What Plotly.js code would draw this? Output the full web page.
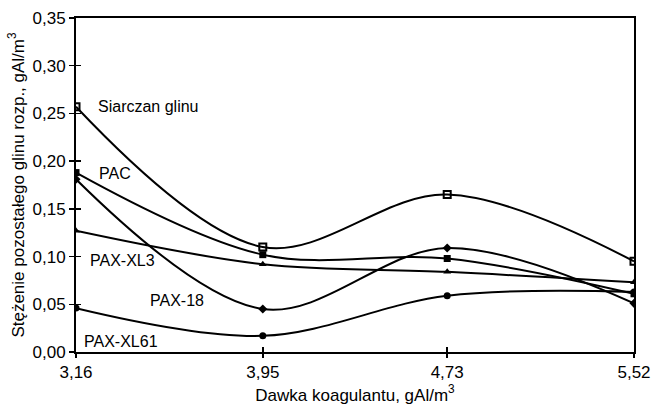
<!DOCTYPE html>
<html>
<head>
<meta charset="utf-8">
<script src="https://cdn.plot.ly/plotly-3.0.1.min.js"></script>
<style>html,body{margin:0;padding:0;background:#fff;}#chart{width:654px;height:409px;}</style>
</head>
<body>
<div id="chart"></div>
<script>
const doses = [3.16, 3.95, 4.73, 5.52];
const xTickLabels = ['3,16', '3,95', '4,73', '5,52'];
const siarczan = [0.257, 0.110, 0.165, 0.095];
const pac = [0.188, 0.102, 0.098, 0.061];
const paxXL3 = [0.127, 0.092, 0.084, 0.073];
const pax18 = [0.181, 0.045, 0.109, 0.051];
const paxXL61 = [0.046, 0.017, 0.059, 0.063];
const seriesNames = ['Siarczan glinu', 'PAC', 'PAX-XL3', 'PAX-18', 'PAX-XL61'];
const yTicks = [0, 0.05, 0.10, 0.15, 0.20, 0.25, 0.30, 0.35];

const seriesData = [siarczan, pac, paxXL3, pax18, paxXL61];
const markerStyles = [
  {symbol: 'square-open', size: 7, line: {width: 2, color: '#000'}},
  {symbol: 'square', size: 7},
  {symbol: 'triangle-up', size: 7},
  {symbol: 'diamond', size: 7},
  {symbol: 'circle', size: 7}
];

const traces = seriesData.map((vals, i) => ({
  x: doses, y: vals, name: seriesNames[i], type: 'scatter', mode: 'lines+markers',
  line: {shape: 'spline', smoothing: 1, color: '#000', width: 2},
  marker: Object.assign({color: '#000'}, markerStyles[i]),
  showlegend: false, hoverinfo: 'skip'
}));

// label positions (layout only)
const labelPos = [
  {x: 3.245, y: 0.257},
  {x: 3.25, y: 0.187},
  {x: 3.21, y: 0.096},
  {x: 3.465, y: 0.054},
  {x: 3.185, y: 0.011}
];
const labelFont = {family: 'Liberation Sans, Arial', size: 16, color: '#000'};
const annotations = seriesNames.map((n, i) => ({
  x: labelPos[i].x, y: labelPos[i].y, xref: 'x', yref: 'y', text: n,
  showarrow: false, xanchor: 'left', yanchor: 'middle', font: labelFont
}));

const font = {family: 'Liberation Sans, Arial', size: 17, color: '#000'};
const layout = {
  width: 654, height: 409,
  margin: {l: 76, r: 20, t: 18, b: 57},
  paper_bgcolor: '#fff', plot_bgcolor: '#fff',
  separators: ', ',
  font: font,
  showlegend: false,
  xaxis: {
    range: [3.16, 5.52], tickvals: doses, ticktext: xTickLabels,
    showline: true, linecolor: '#000', linewidth: 2, mirror: true,
    ticks: 'outside', ticklen: 4, tickwidth: 1.5, tickcolor: '#000',
    showgrid: false, zeroline: false, tickfont: font,
    title: {text: 'Dawka koagulantu, gAl/m<sup>3</sup>', font: font, standoff: 6}
  },
  yaxis: {
    range: [0, 0.35], tickvals: yTicks, tickformat: '.2f',
    showline: true, linecolor: '#000', linewidth: 2, mirror: true,
    ticks: 'outside', ticklen: 5, tickwidth: 1.5, tickcolor: '#000',
    showgrid: false, zeroline: false, tickfont: font,
    title: {text: 'Stężenie pozostałego glinu rozp., gAl/m<sup>3</sup>', font: font, standoff: 4}
  },
  xaxis2: {
    overlaying: 'x', anchor: 'y', range: [3.16, 5.52], tickvals: doses,
    showticklabels: false, ticks: 'inside', ticklen: 5, tickwidth: 1.5, tickcolor: '#000',
    showline: false, showgrid: false, zeroline: false
  },
  yaxis2: {
    overlaying: 'y', anchor: 'x', side: 'left', range: [0, 0.35], tickvals: yTicks,
    showticklabels: false, ticks: 'inside', ticklen: 5, tickwidth: 1.5, tickcolor: '#000',
    showline: false, showgrid: false, zeroline: false
  },
  annotations: annotations
};

traces.push({x: [doses[0]], y: [0], xaxis: 'x2', yaxis: 'y2', mode: 'markers',
  marker: {opacity: 0}, showlegend: false, hoverinfo: 'skip', type: 'scatter'});

Plotly.newPlot('chart', traces, layout, {staticPlot: true});
</script>
</body>
</html>
